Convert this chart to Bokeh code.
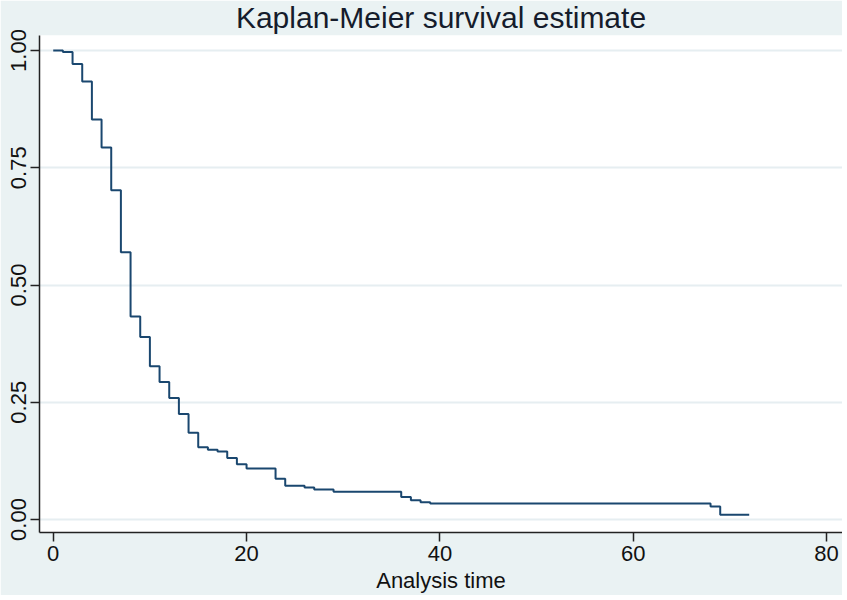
from bokeh.plotting import figure
from bokeh.models import Range1d, FixedTicker
from bokeh.embed import file_html
from bokeh.resources import INLINE

# ---- data ----
times = [0, 1, 2, 3, 4, 5, 6, 7, 8, 9, 10, 11, 12, 13, 14, 15, 16, 17, 18, 19,
         20, 23, 24, 26, 27, 29, 36, 37, 38, 39, 68, 69, 72]
survival = [1.000, 0.997, 0.971, 0.934, 0.853, 0.793, 0.702, 0.570, 0.433, 0.389,
            0.327, 0.293, 0.259, 0.225, 0.185, 0.154, 0.149, 0.145, 0.131, 0.118,
            0.109, 0.087, 0.072, 0.068, 0.064, 0.059, 0.048, 0.041, 0.037, 0.034,
            0.028, 0.010, 0.010]
x_ticks = [0, 20, 40, 60, 80]
y_ticks = [0.0, 0.25, 0.5, 0.75, 1.0]
y_tick_labels = {0.0: "0.00", 0.25: "0.25", 0.5: "0.50", 0.75: "0.75", 1.0: "1.00"}
title_text = "Kaplan-Meier survival estimate"
x_label = "Analysis time"

FONT = "Liberation Sans"
BG = "#eaf2f3"
LINE = "#1a476f"

p = figure(width=842, height=595, output_backend="svg", toolbar_location=None,
           x_range=Range1d(-1.42, 81.65), y_range=Range1d(-0.0277, 1.032),
           min_border_left=39, min_border_right=0, min_border_top=35,
           min_border_bottom=63, border_fill_color=BG,
           background_fill_color="white", outline_line_color=None)

p.step(times, survival, mode="after", line_color=LINE, line_width=2)

# title
p.title.text = title_text
p.title.align = "center"
p.title.vertical_align = "top"
p.title.text_font = FONT
p.title.text_font_size = "30px"
p.title.text_font_style = "normal"
p.title.text_color = "#151c2c"
p.title.standoff = 0
p.title.offset = 0

# axes
p.xaxis.ticker = FixedTicker(ticks=x_ticks)
p.yaxis.ticker = FixedTicker(ticks=y_ticks)
p.yaxis.major_label_overrides = y_tick_labels
p.yaxis.major_label_orientation = "vertical"
p.xaxis.axis_label = x_label
for ax in (p.xaxis[0], p.yaxis[0]):
    ax.axis_line_color = "#222222"
    ax.axis_line_width = 1.5
    ax.major_tick_line_color = "#222222"
    ax.major_tick_line_width = 1.5
    ax.major_tick_out = 9
    ax.major_tick_in = 0
    ax.minor_tick_line_color = None
    ax.major_label_text_font = FONT
    ax.major_label_text_font_size = "22px"
    ax.major_label_text_color = "#111111"
    ax.major_label_standoff = 4
p.xaxis.axis_label_text_font = FONT
p.xaxis.axis_label_text_font_size = "22px"
p.xaxis.axis_label_text_font_style = "normal"
p.xaxis.axis_label_text_color = "#111111"
p.xaxis.axis_label_standoff = 4

p.xgrid.grid_line_color = None
p.ygrid.grid_line_color = "#e6eef1"
p.ygrid.grid_line_width = 2

open("out.html", "w").write(file_html(p, INLINE))
